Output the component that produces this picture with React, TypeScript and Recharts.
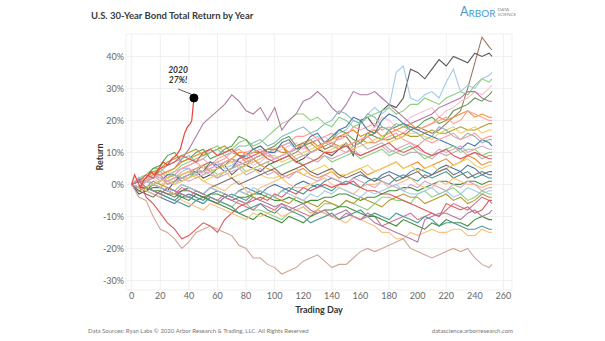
import React from 'react';
import { LineChart, Line, XAxis, YAxis, CartesianGrid, ReferenceDot, ReferenceLine } from 'recharts';

// Trading days sampled for each year's path
const days = [0, 5, 10, 15, 20, 25, 30, 35, 40, 45, 50, 55, 60, 65, 70, 75, 80, 85, 90, 95, 100, 105, 110, 115, 120, 125,
  130, 135, 140, 145, 150, 155, 160, 165, 170, 175, 180, 185, 190, 195, 200, 205, 210, 215, 220, 225, 230, 235, 240, 245, 250, 252];

// Cumulative total return (%) by trading day, one array per year
const r01 = [0, -1, 1, 3, 3, 0, 1, 3, 4, 4, 6, 7, 5, 6, 8, 7, 6, 8, 9, 10, 11, 12, 9, 10, 12, 13, 14, 11, 12, 15, 15, 12, 13, 15, 16, 18, 17, 14, 15, 17, 18, 17, 16, 17, 19, 21, 23, 30, 38, 46, 43, 42];
const r02 = [0, -3, -2, 0, -1, -2, 1, 2, 3, 4, 2, 3, 5, 6, 3, 5, 6, 5, 4, 6, 7, 8, 9, 7, 8, 10, 11, 10, 9, 11, 13, 9, 20, 21, 18, 23, 25, 24, 27, 36, 35, 33, 36, 39, 37, 40, 39, 38, 41, 40, 41, 40];
const r03 = [0, 1, 2, 0, 1, 3, 3, 5, 5, 3, 4, 6, 7, 5, 6, 8, 9, 7, 8, 10, 11, 12, 13, 11, 12, 14, 15, 13, 14, 16, 17, 20, 19, 22, 24, 22, 24, 35, 37, 27, 26, 28, 29, 27, 32, 36, 29, 31, 30, 33, 34, 35];
const r04 = [0, 2, 3, 5, 5, 3, 4, 6, 7, 8, 9, 11, 12, 10, 11, 13, 14, 12, 13, 15, 17, 19, 20, 22, 22, 20, 21, 19, 18, 21, 20, 18, 19, 21, 22, 23, 24, 22, 23, 25, 25, 27, 26, 25, 27, 28, 29, 28, 31, 33, 32, 33];
const r05 = [0, -1, 1, 2, 0, 1, 2, 3, 4, 5, 3, 5, 6, 4, 5, 7, 8, 6, 7, 9, 10, 11, 12, 13, 11, 12, 14, 15, 13, 14, 16, 17, 15, 16, 18, 21, 20, 18, 19, 21, 22, 23, 24, 21, 23, 24, 26, 27, 29, 28, 30, 31];
const r06 = [0, 1, 2, 5, 6, 9, 10, 7, 8, 10, 11, 8, 9, 11, 12, 15, 14, 11, 10, 11, 12, 14, 15, 12, 13, 10, 11, 13, 14, 17, 16, 14, 13, 16, 15, 14, 17, 18, 19, 17, 18, 20, 21, 19, 20, 23, 24, 25, 27, 26, 28, 29];
const r07 = [0, 1, 1, 2, 3, 4, 5, 8, 11, 15, 19, 21, 23, 25, 28, 26, 23, 22, 24, 20, 24, 17, 20, 22, 26, 27, 29, 27, 24, 22, 25, 29, 28, 28, 29, 27, 25, 23, 21, 19, 20, 21, 22, 24, 25, 26, 27, 29, 29, 27, 26, 26];
const r08 = [0, -1, 1, 0, -1, 1, 2, 3, 4, 5, 6, 4, 5, 7, 8, 10, 10, 8, 9, 11, 11, 12, 10, 11, 13, 14, 12, 13, 14, 15, 16, 17, 15, 16, 17, 15, 16, 17, 18, 19, 17, 18, 19, 21, 20, 21, 22, 23, 21, 22, 21, 21];
const r09 = [0, 1, 2, 4, 4, 2, 3, 5, 6, 7, 5, 6, 8, 9, 7, 8, 10, 11, 12, 10, 11, 12, 13, 15, 15, 16, 14, 15, 16, 14, 15, 18, 17, 18, 19, 17, 18, 17, 16, 18, 17, 18, 19, 20, 21, 19, 20, 23, 22, 21, 20, 20];
const r10 = [0, 1, 2, 4, 5, 7, 8, 9, 10, 11, 9, 10, 11, 12, 10, 9, 9, 10, 10, 11, 11, 10, 10, 11, 12, 13, 11, 12, 13, 12, 12, 13, 14, 13, 13, 14, 14, 15, 16, 15, 15, 16, 17, 16, 16, 17, 18, 17, 17, 18, 19, 19];
const r11 = [0, 2, 1, 2, 3, 4, 2, 3, 4, 2, 3, 4, 5, 6, 7, 5, 6, 7, 8, 9, 9, 7, 8, 9, 10, 11, 12, 10, 11, 12, 13, 11, 12, 13, 14, 15, 13, 14, 15, 16, 16, 15, 14, 16, 17, 18, 16, 17, 18, 16, 17, 17];
const r12 = [0, 2, 1, 3, 4, 6, 7, 8, 9, 7, 8, 10, 11, 9, 10, 12, 12, 13, 14, 12, 13, 15, 16, 17, 18, 16, 17, 19, 20, 23, 22, 20, 19, 22, 21, 18, 17, 19, 18, 17, 16, 14, 15, 18, 17, 15, 14, 16, 15, 13, 14, 14];
const r13 = [0, -2, -1, 0, 1, 3, 3, 1, 2, 4, 4, 7, 6, 4, 5, 8, 9, 11, 12, 10, 10, 13, 14, 11, 12, 15, 16, 13, 15, 17, 18, 21, 20, 17, 16, 20, 22, 21, 19, 18, 17, 16, 15, 14, 13, 12, 11, 13, 12, 14, 13, 12];
const r14 = [0, 1, 2, 3, 1, 2, 3, 2, 2, 4, 4, 5, 3, 4, 5, 6, 4, 5, 6, 7, 5, 6, 7, 8, 6, 7, 8, 9, 7, 8, 9, 10, 8, 9, 10, 11, 9, 10, 11, 12, 10, 8, 9, 10, 11, 12, 10, 11, 11, 9, 10, 10];
const r15 = [0, -1, 1, 3, 2, 0, 1, 2, 3, 5, 4, 3, 2, 4, 5, 6, 7, 8, 6, 7, 8, 9, 10, 8, 9, 10, 11, 13, 12, 11, 10, 12, 13, 11, 12, 13, 11, 10, 9, 10, 10, 9, 8, 10, 9, 10, 11, 9, 10, 8, 9, 9];
const r16 = [0, 1, 2, 4, 3, 4, 5, 7, 8, 9, 10, 11, 9, 10, 11, 9, 7, 8, 6, 5, 4, 2, 3, 4, 5, 3, 2, 3, 4, 2, 3, 4, 5, 3, 4, 5, 6, 7, 5, 6, 7, 5, 6, 7, 8, 6, 7, 9, 8, 6, 7, 7];
const r17 = [0, -1, -2, -3, -4, -5, -6, -4, -3, -4, -5, -3, -2, -3, -4, -2, -1, -2, -3, -1, 0, -1, -2, 0, 1, 0, -1, 1, 2, 1, 0, 2, 3, 2, 1, 3, 4, 3, 2, 4, 5, 4, 3, 5, 6, 5, 4, 6, 5, 3, 4, 4];
const r18 = [0, 1, -1, -2, -3, -4, -5, -6, -7, -5, -4, -5, -6, -4, -3, -4, -5, -3, -2, -3, -4, -2, -1, -2, -3, -1, 0, -1, -2, 0, 1, 0, -1, 1, 2, 1, 0, 2, 3, 2, 1, 3, 2, 3, 4, 2, 3, 4, 2, 3, 2, 2];
const r19 = [0, -1, -1, -2, -2, -3, -3, -2, -2, -3, -4, -3, -3, -4, -5, -4, -4, -3, -3, -4, -5, -5, -4, -5, -6, -5, -5, -4, -4, -3, -3, -4, -5, -4, -4, -3, -2, -2, -1, -1, -2, -1, 0, 1, 1, 0, 0, 1, 1, 0, 1, 1];
const r20 = [0, 2, 1, 0, -1, 1, 0, 1, 2, 3, 1, 0, -1, -2, 0, 1, -2, -3, -1, 0, 1, 2, 0, -1, -1, 0, 1, 2, 0, -1, -2, -3, -1, 0, 0, 1, -1, 0, 1, 2, 0, -1, -1, 1, 0, 2, 1, 0, 0, -1, 0, 0];
const r21 = [0, -1, 1, 3, 2, 1, 0, 2, 1, 2, 3, 4, 2, 3, 4, 5, 3, 4, 5, 3, 4, 3, 2, 4, 3, 2, 1, 3, 2, 1, 0, 2, 1, 0, -1, 1, 0, -1, -2, 0, -1, 1, 0, -1, -2, 0, -1, 1, 0, -2, -1, -1];
const r22 = [0, 1, -1, -2, -3, -1, -2, -4, -4, -5, -6, -4, -5, -6, -7, -5, -6, -8, -8, -9, -10, -11, -9, -8, -7, -9, -8, -6, -6, -7, -5, -6, -7, -8, -6, -4, -4, -5, -5, -6, -3, -2, -4, -3, -2, -1, -3, -5, -4, -2, -3, -3];
const r23 = [0, -2, -1, 1, 0, -1, -2, 0, -1, -2, -3, -1, -2, -3, -4, -2, -3, -4, -5, -3, -4, -5, -6, -4, -5, -6, -7, -5, -6, -7, -5, -6, -4, -5, -6, -7, -5, -4, -3, -4, -4, -6, -5, -4, -3, -5, -4, -6, -5, -3, -4, -4];
const r24 = [0, 2, 1, 0, -1, -2, -3, -1, -2, -3, -4, -5, -6, -4, -5, -6, -7, -8, -6, -7, -8, -6, -7, -8, -9, -10, -8, -9, -10, -11, -9, -10, -11, -9, -10, -13, -12, -11, -10, -9, -11, -10, -9, -10, -8, -6, -7, -8, -6, -4, -5, -6];
const r25 = [0, 2, -4, -6, -9, -12, -14, -17, -16, -14, -12, -13, -15, -11, -9, -7, -6, -5, -4, -5, -3, -4, -2, -3, -1, -2, -1, 0, -1, 0, 0, 1, -1, -2, -2, -3, -3, -4, -5, -6, -7, -8, -9, -10, -6, -7, -8, -7, -9, -8, -5, -5];
const r26 = [0, -1, -2, -1, -1, -2, -3, -4, -5, -3, -4, -5, -6, -7, -8, -9, -10, -11, -9, -10, -11, -12, -10, -11, -12, -10, -9, -8, -8, -7, -7, -8, -9, -10, -10, -11, -12, -13, -11, -12, -13, -14, -12, -13, -11, -12, -12, -13, -11, -10, -11, -11];
const r27 = [0, -1, -2, -3, -4, -2, -3, -5, -6, -7, -8, -6, -7, -8, -9, -10, -11, -9, -10, -9, -8, -10, -9, -8, -7, -9, -8, -9, -10, -11, -12, -10, -11, -12, -13, -15, -15, -17, -17, -15, -16, -15, -14, -15, -15, -14, -14, -16, -16, -14, -15, -15];
const r28 = [0, 1, -1, -2, -3, -4, -5, -3, -4, -5, -6, -4, -5, -6, -7, -9, -8, -7, -6, -8, -9, -7, -8, -9, -10, -12, -11, -10, -9, -11, -10, -9, -8, -10, -9, -10, -11, -9, -10, -11, -12, -10, -11, -13, -12, -12, -13, -14, -14, -13, -14, -14];
const r29 = [0, -4, -5, -10, -14, -15, -17, -20, -18, -15, -14, -13, -14, -15, -16, -19, -20, -23, -23, -25, -26, -28, -27, -26, -24, -23, -22, -24, -26, -25, -25, -23, -21, -20, -21, -20, -19, -18, -17, -20, -21, -22, -23, -22, -21, -20, -21, -20, -23, -25, -26, -25];
const r30 = [0, 1, 2, 3, 1, 2, 4, 5, 6, 7, 8, 6, 7, 8, 10, 11, 9, 10, 11, 9, 8, 9, 10, 12, 12, 10, 11, 13, 13, 11, 12, 13, 14, 15, 13, 14, 15, 16, 14, 13, 12, 14, 13, 14, 15, 16, 14, 15, 16, 14, 15, 15];
const r31 = [0, 1, -1, 0, 1, 2, 0, 1, 2, 3, 1, 2, 3, 4, 2, 3, 4, 5, 3, 2, 2, 3, 4, 5, 3, 4, 5, 6, 4, 3, 3, 4, 5, 6, 4, 5, 6, 7, 5, 6, 4, 5, 6, 4, 5, 6, 7, 8, 6, 5, 6, 6];
const r32 = [0, -2, -3, -4, -2, -3, -4, -2, -1, -2, -3, -1, 0, 1, 2, 0, 1, 2, 3, 4, 5, 3, 4, 5, 6, 4, 3, 4, 5, 3, 2, 3, 4, 2, 1, 2, 3, 1, 2, 3, 4, 2, 3, 4, 5, 3, 4, 2, 3, 4, 3, 3];
const r33 = [0, 2, 1, 0, -1, -2, -2, 0, -1, -2, -3, -1, -2, -3, -4, -2, -3, -1, -2, -3, -4, -2, -3, -4, -5, -3, -4, -2, -3, -1, -2, -3, -4, -2, -3, -2, -1, 0, -2, -3, -3, -2, -1, -3, -2, -4, -3, -1, -2, -3, -2, -2];
const r34 = [0, -1, 1, 2, 3, 1, 2, 4, 5, 3, 4, 5, 6, 7, 8, 6, 7, 8, 9, 10, 8, 9, 10, 11, 9, 8, 7, 9, 8, 9, 10, 11, 9, 10, 11, 12, 10, 11, 12, 13, 11, 10, 9, 11, 10, 11, 12, 10, 11, 12, 11, 11];
const r35 = [0, 1, 3, 2, 5, 6, 7, 9, 8, 7, 10, 11, 9, 10, 11, 9, 8, 9, 10, 8, 7, 8, 9, 7, 6, 7, 8, 10, 10, 11, 12, 10, 9, 10, 11, 12, 13, 11, 10, 11, 12, 10, 9, 10, 11, 9, 8, 9, 10, 9, 8, 8];
const r36 = [0, 1, -1, -2, -3, -1, -2, -3, -4, -2, -3, -4, -5, -3, -4, -5, -6, -4, -5, -6, -7, -6, -8, -7, -6, -8, -9, -8, -10, -9, -8, -10, -11, -10, -12, -13, -14, -15, -16, -17, -18, -11, -10, -9, -9, -10, -11, -9, -8, -10, -9, -8];

// 2020 (partial year)
const days2020 = [0, 2, 4, 6, 8, 10, 13, 16, 19, 22, 25, 28, 31, 34, 37, 39, 41, 42, 43.5];
const ret2020 = [0, 3, 1, -1, 1, 2, 4, 3, 5, 7, 6, 8, 9, 11, 16, 18, 19, 20, 27];

const yearSeries = [r01, r02, r03, r04, r05, r06, r07, r08, r09, r10, r11, r12, r13, r14, r15, r16, r17, r18,
  r19, r20, r21, r22, r23, r24, r25, r26, r27, r28, r29, r30, r31, r32, r33, r34, r35, r36];

const lineColors = ['#9D7660', '#5A5553', '#A0CBE8', '#8CD17D', '#FABFD2', '#59A14F', '#B07AA1', '#F28E2B',
  '#FF9D9A', '#B6992D', '#F1CE63', '#86BCB6', '#4E79A7', '#8CD17D', '#BAB0AC', '#F28E2B', '#4E79A7', '#499894',
  '#3E8E3A', '#FFBE7D', '#D4A6C8', '#8CD17D', '#B6992D', '#D37295', '#E15759', '#3E8E3A', '#FFBE7D', '#499894',
  '#CFA697', '#FF9D9A', '#F1CE63', '#79706E', '#A0CBE8', '#D4A6C8', '#E15759', '#B07AA1'];

const xTicks = [0, 20, 40, 60, 80, 100, 120, 140, 160, 180, 200, 220, 240, 260];
const yTicks = [-30, -20, -10, 0, 10, 20, 30, 40];

const annotationYear = '2020';
const annotationValue = '27%!';

const toPoints = (ds: number[], vs: number[]) => ds.map((d, i) => ({ day: d, ret: vs[i] }));

const FONT = 'Lato, "Open Sans", sans-serif';

export default function App() {
  const last2020 = days2020.length - 1;
  return (
    <div style={{ position: 'absolute', left: 0, top: 0, width: 605, height: 341, background: '#fff', fontFamily: FONT }}>
      <div style={{ position: 'absolute', left: 91, top: 10, fontSize: 9.5, fontWeight: 700, color: '#3a3a3a', whiteSpace: 'nowrap' }}>
        U.S. 30-Year Bond Total Return by Year
      </div>
      <div style={{ position: 'absolute', left: 460, top: 5, color: '#4A9BCB', whiteSpace: 'nowrap', display: 'flex', alignItems: 'flex-end' }}>
        <span style={{ fontSize: 12.5, lineHeight: '14px' }}>A</span>
        <span style={{ fontSize: 10, lineHeight: '12px' }}>RBOR</span>
        <span style={{ display: 'flex', flexDirection: 'column', fontSize: 4.6, lineHeight: '5px', color: '#8a8a8a', marginLeft: 2, marginBottom: 2 }}>
          <span>DATA</span>
          <span>SCIENCE</span>
        </span>
      </div>
      <LineChart width={605} height={341} margin={{ top: 34, right: 93, bottom: 31, left: 0 }}>
        <CartesianGrid stroke="#efefef" />
        <XAxis
          dataKey="day"
          type="number"
          domain={[-4, 266]}
          ticks={xTicks}
          allowDataOverflow
          tickLine={false}
          axisLine={false}
          tickSize={0}
          tickMargin={3}
          height={20}
          tick={{ fontSize: 9, fill: '#666', fontFamily: FONT }}
          label={{ value: 'Trading Day', position: 'bottom', offset: -3, fontSize: 9, fontWeight: 700, fill: '#333', fontFamily: FONT }}
        />
        <YAxis
          type="number"
          domain={[-33, 47]}
          ticks={yTicks}
          allowDataOverflow
          tickFormatter={(v: number) => `${v}%`}
          width={126}
          tickLine={false}
          axisLine={false}
          tickSize={0}
          tickMargin={2}
          tick={{ fontSize: 9, fill: '#666', fontFamily: FONT }}
          label={{
            content: () => (
              <text x={101} y={157} transform="rotate(-90, 101, 157)" textAnchor="middle" dominantBaseline="middle"
                fontSize={9} fontWeight={700} fill="#333" fontFamily={FONT}>Return</text>
            ),
          }}
        />
        {yearSeries.map((vals, i) => (
          <Line
            key={i}
            data={toPoints(days, vals)}
            dataKey="ret"
            type="linear"
            stroke={lineColors[i]}
            strokeWidth={1.1}
            dot={false}
            activeDot={false}
            isAnimationActive={false}
          />
        ))}
        <Line
          data={toPoints(days2020, ret2020)}
          dataKey="ret"
          type="linear"
          stroke="#E8443A"
          strokeWidth={1.2}
          dot={false}
          activeDot={false}
          isAnimationActive={false}
        />
        <ReferenceLine segment={[{ x: 32.5, y: 29.8 }, { x: 41.6, y: 28.2 }]} stroke="#333" strokeWidth={0.8} />
        <ReferenceDot x={days2020[last2020]} y={ret2020[last2020]} r={4} fill="#000" stroke="#000" />
        <ReferenceDot
          x={32.4}
          y={33}
          r={0}
          fill="none"
          stroke="none"
          label={{
            content: (props: any) => {
              const vb = props.viewBox || {};
              const cx = (vb.x || 0) + (vb.width || 0) / 2;
              const cy = (vb.y || 0) + (vb.height || 0) / 2;
              return (
                <g fontFamily={FONT} fontSize={8.5} fontStyle="italic" fontWeight={700} fill="#333" textAnchor="middle">
                  <text x={cx} y={cy - 6}>{annotationYear}</text>
                  <text x={cx} y={cy + 4}>{annotationValue}</text>
                </g>
              );
            },
          }}
        />
      </LineChart>
      <div style={{ position: 'absolute', left: 88, top: 327, fontSize: 6, color: '#777', whiteSpace: 'nowrap' }}>
        Data Sources: Ryan Labs © 2020 Arbor Research &amp; Trading, LLC. All Rights Reserved
      </div>
      <div style={{ position: 'absolute', right: 92, top: 327, fontSize: 6, color: '#777', whiteSpace: 'nowrap' }}>
        datascience.arborresearch.com
      </div>
    </div>
  );
}
